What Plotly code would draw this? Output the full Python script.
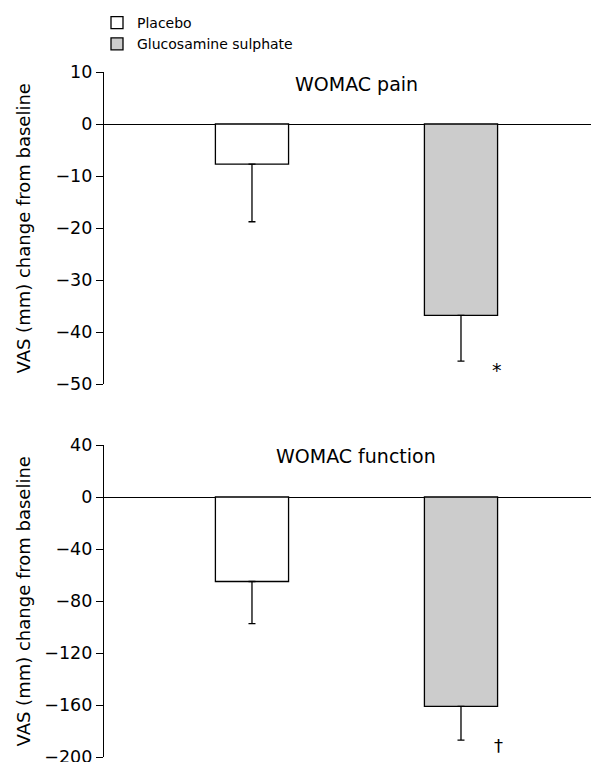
import plotly.graph_objects as go

groups = ["Placebo", "Glucosamine sulphate"]
fill_colors = ["#ffffff", "#cccccc"]

pain_change = [-7.7, -36.8]
pain_sem = [11.1, 8.8]

function_change = [-65, -161]
function_sem = [32.4, 26]

pain_ticks = [10, 0, -10, -20, -30, -40, -50]
function_ticks = [40, 0, -40, -80, -120, -160, -200]

W, H = 591, 762
ML = 104
PW = W - ML
FONT = "DejaVu Sans"

fig = go.Figure()

for i, g in enumerate(groups):
    fig.add_trace(go.Bar(
        x=[g], y=[pain_change[i]], name=g, width=0.35,
        marker=dict(color=fill_colors[i], line=dict(color="black", width=1.3)),
        error_y=dict(type="data", symmetric=False, array=[0], arrayminus=[pain_sem[i]],
                     color="black", thickness=1.3, width=3.5),
        xaxis="x", yaxis="y", showlegend=True, legendgroup=g,
    ))
for i, g in enumerate(groups):
    fig.add_trace(go.Bar(
        x=[g], y=[function_change[i]], name=g, width=0.35,
        marker=dict(color=fill_colors[i], line=dict(color="black", width=1.3)),
        error_y=dict(type="data", symmetric=False, array=[0], arrayminus=[function_sem[i]],
                     color="black", thickness=1.3, width=3.5),
        xaxis="x2", yaxis="y2", showlegend=False, legendgroup=g,
    ))

def ydom(top_px, bot_px):
    return [(H - bot_px) / H, (H - top_px) / H]

def px_x(px):
    return (px - ML) / PW

xcommon = dict(type="category", range=[-0.708, 1.622], showline=False, showticklabels=False,
               ticks="", showgrid=False, zeroline=False, fixedrange=True)
ycommon = dict(showline=True, linecolor="black", linewidth=1.3, ticks="outside",
               ticklen=7, tickwidth=1.3, tickcolor="black", showgrid=False,
               zeroline=True, zerolinecolor="black", zerolinewidth=1.3,
               tickfont=dict(family=FONT, size=17.5, color="black"), automargin=False,
               ticklabeloverflow="allow")
fig.update_layout(
    xaxis=dict(**xcommon, anchor="y"),
    xaxis2=dict(**xcommon, anchor="y2"),
    yaxis=dict(**ycommon, domain=ydom(72, 384), range=[-50, 10], tickvals=pain_ticks,
               ticktext=[str(v).replace("-", "\u2212") for v in pain_ticks], anchor="x"),
    yaxis2=dict(**ycommon, domain=ydom(445, 757), range=[-200, 40], tickvals=function_ticks,
                ticktext=[str(v).replace("-", "\u2212") for v in function_ticks], anchor="x2"),
    width=W, height=H,
    margin=dict(l=ML, r=0, t=0, b=0, autoexpand=False),
    plot_bgcolor="white", paper_bgcolor="white",
    barmode="overlay",
    showlegend=True,
    legend=dict(x=px_x(97), y=1 - 7 / H, xanchor="left", yanchor="top",
                font=dict(family=FONT, size=14, color="black"),
                itemwidth=30, tracegroupgap=0, bgcolor="rgba(0,0,0,0)",
                itemclick=False, itemdoubleclick=False),
    font=dict(family=FONT, color="black"),
)

ann = []
ann.append(dict(text="WOMAC pain", x=0.5, y=7.7, xref="x", yref="y", showarrow=False,
                font=dict(family=FONT, size=19, color="black")))
ann.append(dict(text="WOMAC function", x=0.5, y=31.6, xref="x2", yref="y2", showarrow=False,
                font=dict(family=FONT, size=19, color="black")))
ann.append(dict(text="*", x=1.17, y=-47.3, xref="x", yref="y", showarrow=False,
                font=dict(family=FONT, size=19, color="black")))
ann.append(dict(text="\u2020", x=1.18, y=-191, xref="x2", yref="y2", showarrow=False,
                font=dict(family=FONT, size=18, color="black")))
for ycen in [229, 602]:
    ann.append(dict(text="VAS (mm) change from baseline", x=px_x(22.5), y=1 - ycen / H,
                    xref="paper", yref="paper", showarrow=False, textangle=-90,
                    xanchor="center", yanchor="middle",
                    font=dict(family=FONT, size=18, color="black")))
fig.update_layout(annotations=ann)

fig.write_html("out.html", config={"displayModeBar": False},
               post_script="document.body.style.margin='0px';")
